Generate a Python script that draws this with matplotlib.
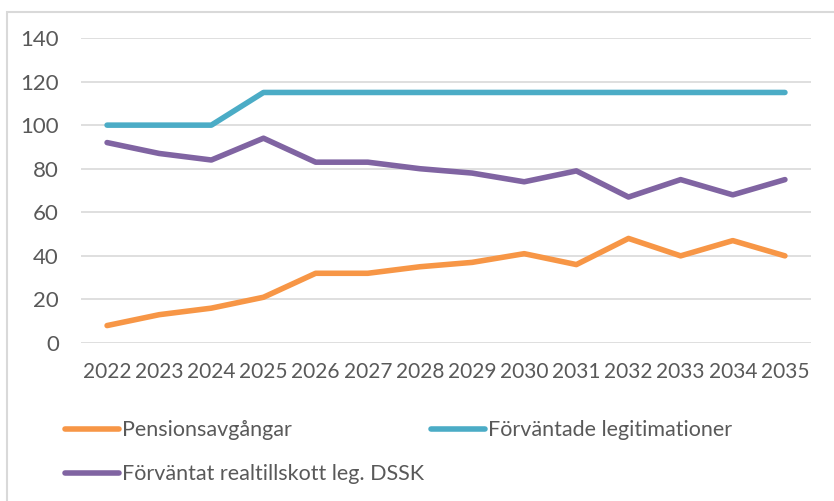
import matplotlib.pyplot as plt
from matplotlib.patches import Rectangle

# data
years = ["2022", "2023", "2024", "2025", "2026", "2027", "2028",
         "2029", "2030", "2031", "2032", "2033", "2034", "2035"]
pension = [8, 13, 16, 21, 32, 32, 35, 37, 41, 36, 48, 40, 47, 40]
legit = [100, 100, 100, 115, 115, 115, 115, 115, 115, 115, 115, 115, 115, 115]
realtillskott = [92, 87, 84, 94, 83, 83, 80, 78, 74, 79, 67, 75, 68, 75]

plt.rcParams['font.family'] = ['Lato', 'DejaVu Sans']
txt = '#595959'

fig = plt.figure(figsize=(8.34, 5.01), dpi=100)
ax = fig.add_axes([81/834, 1-343/501, (811-81)/834, (343-38)/501])

# light frame round the chart area
fig.patches.append(Rectangle((7/834, -0.1), 1.2, (501-12)/501 + 0.1,
                             transform=fig.transFigure, fill=False,
                             edgecolor='#D9D9D9', lw=1.5))

x = range(len(years))
l1, = ax.plot(x, pension, color='#F79646', lw=4, solid_capstyle='round',
              label='Pensionsavgångar')
l2, = ax.plot(x, legit, color='#4BACC6', lw=4, solid_capstyle='round',
              label='Förväntade legitimationer')
l3, = ax.plot(x, realtillskott, color='#8064A2', lw=4, solid_capstyle='round',
              label='Förväntat realtillskott leg. DSSK')

ax.set_xlim(-0.5, len(years) - 0.5)
ax.set_ylim(0, 140)
ax.set_yticks(range(0, 141, 20))
ax.set_xticks(list(x))
ax.set_xticklabels(years)
ax.grid(axis='y', color='#D9D9D9', lw=1.2)
ax.set_axisbelow(True)
for s in ax.spines.values():
    s.set_visible(False)
ax.tick_params(length=0, labelsize=15, colors=txt, pad=14)
ax.tick_params(axis='y', labelsize=16, pad=16)

leg = fig.legend([l1, l3, l2], [l1.get_label(), l3.get_label(), l2.get_label()],
                 ncol=2, loc='upper left', bbox_to_anchor=(46/834, 1-401/501),
                 frameon=False, fontsize=15.5, handlelength=2.5,
                 handletextpad=0.15, columnspacing=0.3, labelspacing=1.1)
for t in leg.get_texts():
    t.set_color(txt)

fig.savefig('out.png', dpi=100)
